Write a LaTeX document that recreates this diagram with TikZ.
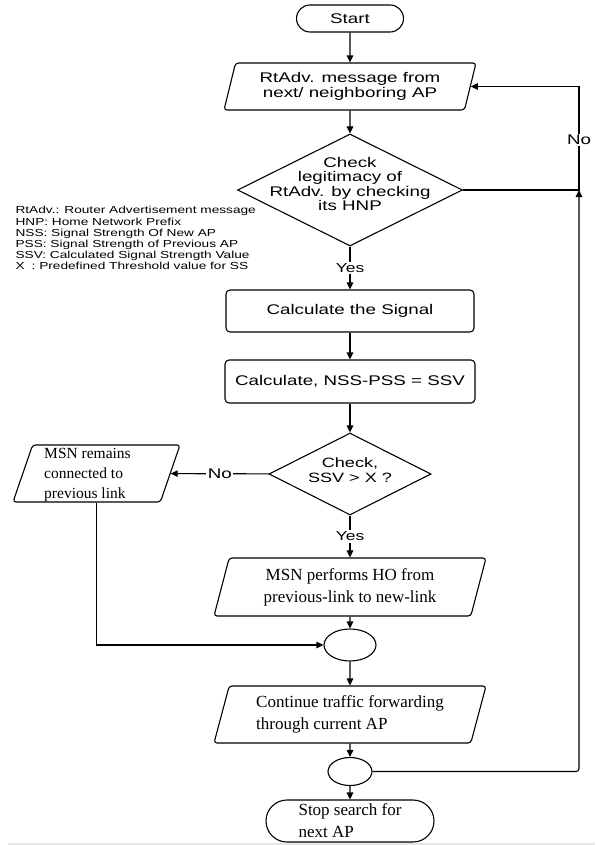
\documentclass[tikz,border=0pt]{standalone}
\usepackage{fontspec}
\setmainfont{Liberation Serif}
\newfontfamily\widesans[FakeStretch=1.34]{Liberation Sans}
\usetikzlibrary{shapes.geometric,shapes.misc,arrows.meta}

\begin{document}
\begin{tikzpicture}[x=1pt,y=-1pt,
	line width=1.1pt,
	flow/.style={-{Triangle[length=7pt,width=6.5pt]}},
	sanstext/.style={font=\widesans\fontsize{14}{15.5}\selectfont, align=center},
	romantext/.style={font=\fontsize{17}{22}\selectfont, align=left},
	terminal/.style={draw, rounded rectangle, inner sep=0pt},
	process/.style={draw, rectangle, rounded corners=4pt, inner sep=0pt},
	io/.style={draw, trapezium, trapezium left angle=68, trapezium right angle=112,
		trapezium stretches body, rounded corners=3pt, inner sep=0pt},
	decision/.style={draw, diamond, inner sep=0pt},
	joint/.style={draw, ellipse, inner sep=0pt},
	lbl/.style={fill=white, inner sep=1.5pt, font=\widesans\fontsize{13}{13}\selectfont}]
	\useasboundingbox (0,0) rectangle (595,845);
	\fill[black!10] (8,842.5) rectangle (595,845);

	% main column
	\node[terminal, sanstext, minimum width=107, minimum height=27] (start) at (350,18.5) {Start};
	\node[io, sanstext, minimum width=252, minimum height=47] (msg) at (350,86.5) {RtAdv. message from\\next/ neighboring AP};
	\node[decision, minimum width=225, minimum height=112,
		label={[sanstext, font=\widesans\fontsize{14}{14.5}\selectfont, yshift=6pt]center:Check\\legitimacy of\\RtAdv. by checking\\its HNP}] (legit) at (350,190) {};
	\node[process, sanstext, minimum width=248, minimum height=42] (signal) at (350,311) {Calculate the Signal};
	\node[process, sanstext, minimum width=250, minimum height=43] (ssv) at (350,381.5) {Calculate, NSS-PSS = SSV};
	\node[decision, minimum width=162, minimum height=82,
		label={[sanstext, font=\widesans\fontsize{13.5}{15}\selectfont, yshift=4pt]center:Check,\\SSV > X ?}] (thresh) at (350,474) {};
	\node[io, trapezium left angle=71, trapezium right angle=109, minimum width=167,
		label={[romantext, font=\fontsize{15.5}{20}\selectfont, xshift=-9pt, yshift=-2pt]center:MSN remains\\connected to\\previous link}] (remain) at (96.5,473.5) {\rule[-28.5pt]{0pt}{57pt}};
	\node[io, romantext, align=center, minimum width=272, minimum height=58] (handover) at (350,587) {MSN performs HO from\\previous-link to new-link};
	\node[joint, minimum width=52, minimum height=32] (join1) at (350,645) {};
	\node[io, romantext, minimum width=272, minimum height=57] (forward) at (350,714.5) {Continue traffic forwarding\\through current AP};
	\node[joint, minimum width=44, minimum height=28] (join2) at (350,771.5) {};
	\node[terminal, romantext, minimum width=168, minimum height=42] (stop) at (350,821) {Stop search for\\next AP};

	% abbreviations
	\node[anchor=north west, inner sep=0pt, align=left, font=\widesans\fontsize{10.2}{11.2}\selectfont] (legend) at (15,206) {RtAdv.: Router Advertisement message\\HNP: Home Network Prefix\\NSS: Signal Strength Of New AP\\PSS: Signal Strength of Previous AP\\SSV: Calculated Signal Strength Value\\X\hspace{7pt}: Predefined Threshold value for SS};

	% connectors
	\draw[flow] (start) -- (msg);
	\draw[flow] (msg) -- (legit);
	\draw[flow] (legit) -- node[lbl] {Yes} (signal);
	\draw[flow] (signal) -- (ssv);
	\draw[flow] (ssv) -- (thresh);
	\draw[flow] (thresh) -- node[lbl, font=\widesans\fontsize{14}{14}\selectfont] {No} (remain);
	\draw[flow] (thresh) -- node[lbl] {Yes} (handover);
	\draw[flow] (handover) -- (join1);
	\draw[flow] (remain.south) |- (join1.west);
	\draw[flow] (join1) -- (forward);
	\draw[flow] (forward) -- (join2);
	\draw[flow] (join2) -- (stop);

	% loop back on the right
	\coordinate (rail) at (579,0);
	\draw[flow] (legit.east) -- (legit.east -| rail) |- (msg.east);
	\draw[flow, rounded corners=3pt] (join2.east) -| (legit.east -| rail);
	\node[lbl, font=\widesans\fontsize{14}{14}\selectfont] (nolabel) at (579,140) {No};
\end{tikzpicture}
\end{document}
